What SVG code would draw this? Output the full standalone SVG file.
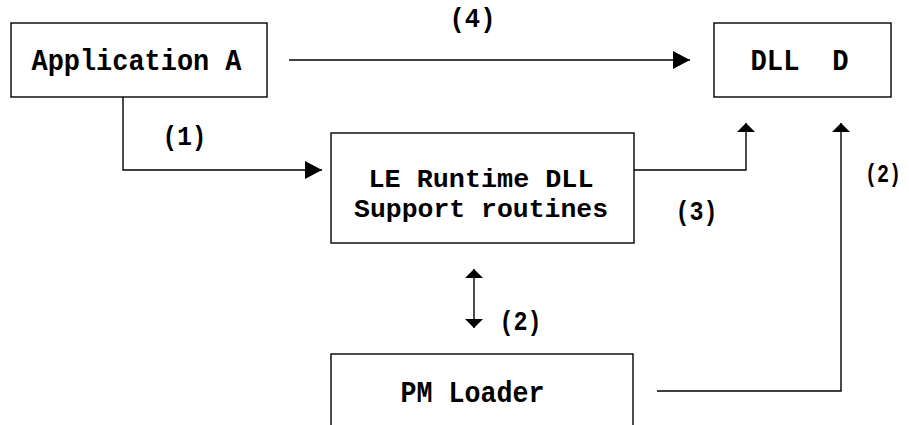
<svg xmlns="http://www.w3.org/2000/svg" width="909" height="425" viewBox="0 0 909 425">
<style>
.box{fill:#fff;stroke:#000;stroke-width:1.4}
.lbl{font-family:"Liberation Mono","Courier New",monospace;font-weight:bold;font-size:30px;fill:#000;text-anchor:middle}
.lbl2{font-family:"Liberation Mono","Courier New",monospace;font-weight:bold;font-size:26px;fill:#000;text-anchor:middle}
.num{font-family:"Liberation Mono","Courier New",monospace;font-weight:bold;font-size:27px;fill:#000;text-anchor:middle}
.con{fill:none;stroke:#000;stroke-width:1.4}
</style>
<defs>
<marker id="ah" markerUnits="userSpaceOnUse" markerWidth="17" markerHeight="18" refX="17" refY="9" orient="auto" viewBox="0 0 17 18"><path d="M0,0 L17,9 L0,18 z" fill="#000"/></marker>
<marker id="av" markerUnits="userSpaceOnUse" markerWidth="9" markerHeight="18" refX="9" refY="9" orient="auto-start-reverse" viewBox="0 0 9 18"><path d="M0,0 L9,9 L0,18 z" fill="#000"/></marker>
</defs>
<rect width="909" height="425" fill="#fff"/>
<g id="connectors">
<path class="con" d="M289,60 H690" marker-end="url(#ah)"/>
<path class="con" d="M123,97 V170 H322" marker-end="url(#ah)"/>
<path class="con" d="M634,170 H746 V123" marker-end="url(#av)"/>
<path class="con" d="M657,391 H841 V123" marker-end="url(#av)"/>
<path class="con" d="M474,269 V328" marker-start="url(#av)" marker-end="url(#av)"/>
<text class="num" x="472.5" y="27" textLength="46" lengthAdjust="spacingAndGlyphs">(4)</text>
<text class="num" x="184.5" y="145" textLength="44" lengthAdjust="spacingAndGlyphs">(1)</text>
<text class="num" x="696.5" y="220" textLength="42" lengthAdjust="spacingAndGlyphs">(3)</text>
<text class="num" x="883" y="182" textLength="36" lengthAdjust="spacingAndGlyphs" style="font-size:25px">(2)</text>
<text class="num" x="520.5" y="330" textLength="42" lengthAdjust="spacingAndGlyphs">(2)</text>
</g>
<g id="appA">
<rect class="box" x="11" y="23" width="256" height="74"/>
<text class="lbl" x="136.5" y="70" textLength="210" lengthAdjust="spacingAndGlyphs">Application A</text>
</g>
<g id="dllD">
<rect class="box" x="714" y="23" width="177" height="74"/>
<text class="lbl" x="799.5" y="70" textLength="98" lengthAdjust="spacingAndGlyphs" xml:space="preserve" style="white-space:pre">DLL  D</text>
</g>
<g id="leRuntime">
<rect class="box" x="331" y="133" width="303" height="110"/>
<text class="lbl2" x="481" y="187" textLength="225" lengthAdjust="spacingAndGlyphs">LE Runtime DLL</text>
<text class="lbl2" x="481" y="217" textLength="254" lengthAdjust="spacingAndGlyphs">Support routines</text>
</g>
<g id="pmLoader">
<rect class="box" x="331" y="354" width="302" height="100"/>
<text class="lbl" x="472.5" y="402" textLength="144" lengthAdjust="spacingAndGlyphs">PM Loader</text>
</g>
</svg>
